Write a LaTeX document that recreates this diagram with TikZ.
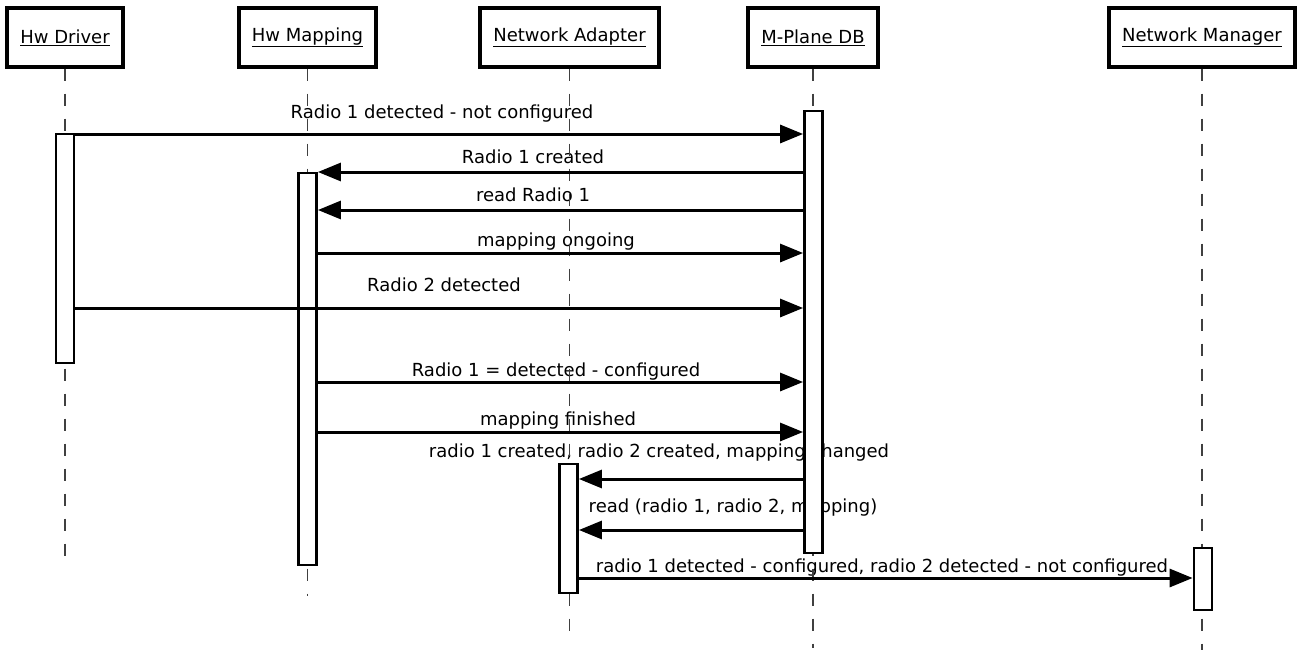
\documentclass[tikz,border=0pt]{standalone}
\usepackage{fontspec}
\setmainfont{DejaVu Sans}
\usetikzlibrary{arrows.meta}
\begin{document}
\begin{tikzpicture}[x=1pt,y=-1pt,
  every node/.style={font=\fontsize{18}{20}\selectfont, inner sep=0pt},
  head/.style={draw, line width=3.4pt, fill=white, minimum height=59pt},
  act/.style={draw, line width=2.8pt, fill=white, minimum width=18pt},
  life/.style={line width=1.6pt, dash pattern=on 12pt off 13pt, black!75},
  msg/.style={line width=3pt, -{Triangle[length=23pt,width=18pt]}},
  lbl/.style={anchor=base}
]
\useasboundingbox (0,0) rectangle (1300,650);
% headers
\node[head, minimum width=116pt] (hd) at (65,37.5) {\underline{Hw Driver}};
\node[head, minimum width=137pt] (hm) at (307.5,37.5) {\underline{Hw Mapping}};
\node[head, minimum width=179pt] (na) at (569.5,37.5) {\underline{Network Adapter}};
\node[head, minimum width=130pt] (db) at (813,37.5) {\underline{M-Plane DB}};
\node[head, minimum width=186pt] (nm) at (1202,37.5) {\underline{Network Manager}};
% lifeline ends
\coordinate (hdE) at (65,560);
\coordinate (hmE) at (307.5,596);
\coordinate (naE) at (569.5,636);
\coordinate (dbE) at (813,648);
\coordinate (nmE) at (1202,650);
% labels
\node[lbl] (l1) at (442,119) {Radio 1 detected - not configured};
\node[lbl] (l2) at (533,163) {Radio 1 created};
\node[lbl] (l3) at (533,201) {read Radio 1};
\node[lbl] (l4) at (556,246) {mapping ongoing};
\node[lbl] (l5) at (444,291) {Radio 2 detected};
\node[lbl] (l6) at (556,376) {Radio 1 = detected - configured};
\node[lbl] (l7) at (558,425) {mapping finished};
\node[lbl] (l8) at (659,457) {radio 1 created, radio 2 created, mapping changed};
\node[lbl] (l9) at (733,512) {read (radio 1, radio 2, mapping)};
\node[lbl] (l10) at (882,572) {radio 1 detected - configured, radio 2 detected - not configured};
% lifelines
\draw[life] (hd.south) -- (hdE);
\draw[life] (hm.south) -- (hmE);
\draw[life] (na.south) -- (naE);
\draw[life] (db.south) -- (dbE);
\draw[life] (nm.south) -- (nmE);
% activations
\node[act, minimum height=229pt] (ahd) at (65,248.5) {};
\node[act, minimum height=392pt] (ahm) at (307.5,369) {};
\node[act, minimum height=129pt] (ana) at (568.5,528.5) {};
\node[act, minimum height=442pt] (adb) at (813.5,332) {};
\node[act, minimum height=62pt] (anm) at (1203,579) {};
% messages
\draw[msg] (ahd.east |- 0,134) -- (adb.west |- 0,134);
\draw[msg] (adb.west |- 0,172) -- (ahm.east |- 0,172);
\draw[msg] (adb.west |- 0,210) -- (ahm.east |- 0,210);
\draw[msg] (ahm.east |- 0,253) -- (adb.west |- 0,253);
\draw[msg] (ahd.east |- 0,308) -- (adb.west |- 0,308);
\draw[msg] (ahm.east |- 0,382) -- (adb.west |- 0,382);
\draw[msg] (ahm.east |- 0,432) -- (adb.west |- 0,432);
\draw[msg] (adb.west |- 0,479) -- (ana.east |- 0,479);
\draw[msg] (adb.west |- 0,530) -- (ana.east |- 0,530);
\draw[msg] (ana.east |- 0,578) -- (anm.west |- 0,578);
\end{tikzpicture}
\end{document}
